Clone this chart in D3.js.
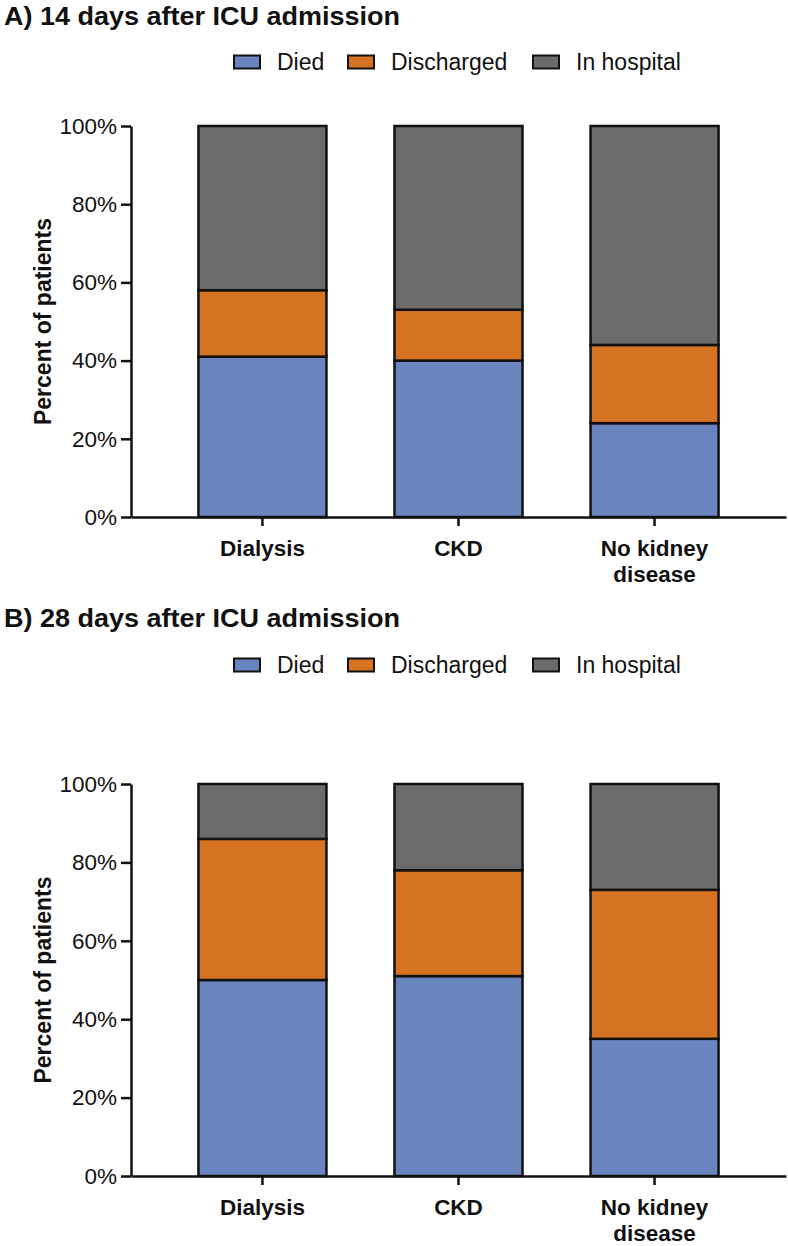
<!DOCTYPE html>
<html>
<head>
<meta charset="utf-8">
<script src="https://cdn.jsdelivr.net/npm/d3@7"></script>
<style>
  html, body { margin: 0; padding: 0; background: #fff; }
  svg { display: block; font-family: "Liberation Sans", Arial, Helvetica, sans-serif; }
</style>
</head>
<body>
<svg id="chart" width="788" height="1246"></svg>
<script>
// ---- data ----
const categories = ["Dialysis", "CKD", "No kidney disease"];
const categoryLines = [["Dialysis"], ["CKD"], ["No kidney", "disease"]];
const seriesNames = ["Died", "Discharged", "In hospital"];
const seriesColors = ["#6a84bf", "#d67322", "#6b6b6b"];
const yTicks = [0, 20, 40, 60, 80, 100];

// A) 14 days
const died14 = [41, 40, 24];
const discharged14 = [17, 13, 20];
const inHospital14 = [42, 47, 56];
// B) 28 days
const died28 = [50, 51, 35];
const discharged28 = [36, 27, 38];
const inHospital28 = [14, 22, 27];

const titles = ["A) 14 days after ICU admission", "B) 28 days after ICU admission"];

const svg = d3.select("#chart");

function buildRows(died, discharged, inHosp) {
  return categories.map((c, i) => ({
    cat: c,
    "Died": died[i],
    "Discharged": discharged[i],
    "In hospital": inHosp[i]
  }));
}

function drawPanel(cfg) {
  const g = svg.append("g");
  const rows = buildRows(cfg.died, cfg.discharged, cfg.inHosp);
  const stack = d3.stack().keys(seriesNames)(rows);

  const x = d3.scaleBand().domain(categories)
    .range([cfg.left, cfg.right]).paddingInner(0.347).paddingOuter(0.344);
  const y = d3.scaleLinear().domain([0, 100]).range([cfg.bottom, cfg.top]);
  const color = d3.scaleOrdinal().domain(seriesNames).range(seriesColors);

  // title
  g.append("text").attr("x", 4).attr("y", cfg.titleY)
    .attr("font-size", 25).attr("font-weight", "bold").attr("fill", "#111")
    .attr("textLength", 396).attr("lengthAdjust", "spacingAndGlyphs")
    .text(cfg.title);

  // legend
  const legendX = [234, 348, 533];
  const lg = g.append("g");
  seriesNames.forEach((s, i) => {
    lg.append("rect").attr("x", legendX[i]).attr("y", cfg.legendY - 6.5)
      .attr("width", 26).attr("height", 13)
      .attr("fill", color(s)).attr("stroke", "#111").attr("stroke-width", 2);
    lg.append("text").attr("x", legendX[i] + 43).attr("y", cfg.legendY)
      .attr("dominant-baseline", "central")
      .attr("font-size", 23).attr("fill", "#111").text(s);
  });

  // bars
  g.append("g").selectAll("g").data(stack).join("g")
    .attr("fill", d => color(d.key))
    .selectAll("rect").data(d => d).join("rect")
    .attr("x", d => x(d.data.cat))
    .attr("width", x.bandwidth())
    .attr("y", d => y(d[1]))
    .attr("height", d => y(d[0]) - y(d[1]))
    .attr("stroke", "#111").attr("stroke-width", 2.5);

  // y axis
  const ya = g.append("g").attr("transform", `translate(${cfg.left},0)`)
    .call(d3.axisLeft(y).tickValues(yTicks).tickFormat(d => d + "%")
      .tickSize(10).tickSizeOuter(0).tickPadding(4));
  ya.select(".domain").attr("stroke", "#111").attr("stroke-width", 2.5);
  ya.selectAll(".tick line").attr("stroke", "#111").attr("stroke-width", 2.5);
  ya.selectAll(".tick text").attr("font-size", 22.5).attr("fill", "#111")
    .attr("font-family", "'Liberation Sans', Arial, sans-serif");

  // x axis
  const xa = g.append("g").attr("transform", `translate(0,${cfg.bottom})`)
    .call(d3.axisBottom(x).tickSize(9).tickSizeOuter(0).tickFormat(""));
  xa.select(".domain").attr("stroke", "#111").attr("stroke-width", 2.5);
  xa.selectAll(".tick line").attr("stroke", "#111").attr("stroke-width", 2.5);

  // category labels (one text element per line)
  categories.forEach((c, i) => {
    categoryLines[i].forEach((line, j) => {
      g.append("text")
        .attr("x", x(c) + x.bandwidth() / 2)
        .attr("y", cfg.bottom + 39 + j * 26)
        .attr("text-anchor", "middle")
        .attr("font-size", 22.5).attr("font-weight", "bold").attr("fill", "#111")
        .text(line);
    });
  });

  // y axis title
  g.append("text")
    .attr("transform", `translate(51,${(cfg.top + cfg.bottom) / 2}) rotate(-90)`)
    .attr("text-anchor", "middle")
    .attr("font-size", 23).attr("font-weight", "bold").attr("fill", "#111")
    .text("Percent of patients");
}

drawPanel({
  title: titles[0], titleY: 25, legendY: 62,
  left: 131, right: 786, top: 126, bottom: 517,
  died: died14, discharged: discharged14, inHosp: inHospital14
});
drawPanel({
  title: titles[1], titleY: 627, legendY: 665,
  left: 131, right: 786, top: 784, bottom: 1176,
  died: died28, discharged: discharged28, inHosp: inHospital28
});
</script>
</body>
</html>
